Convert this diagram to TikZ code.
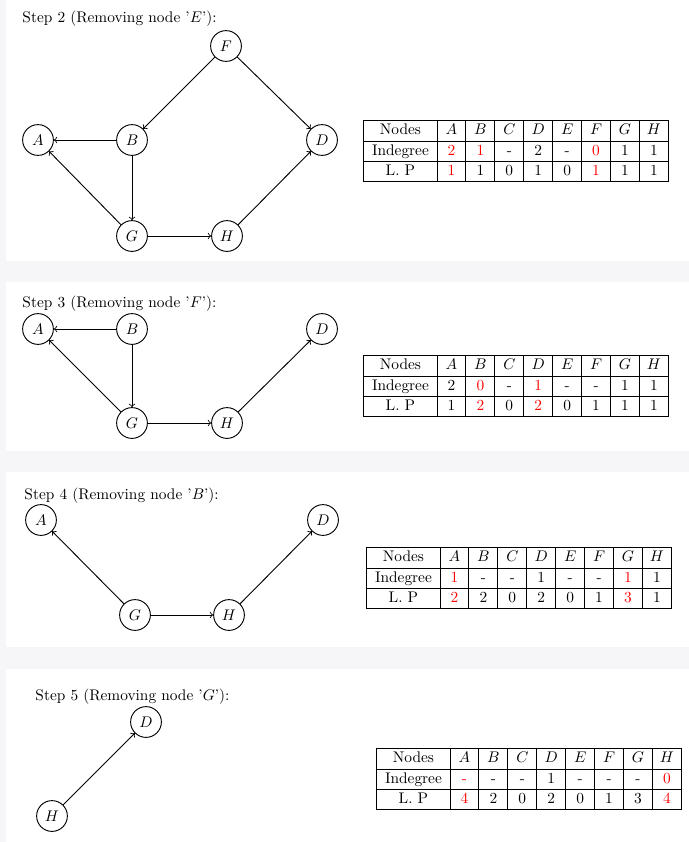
\documentclass[tikz,border=0pt]{standalone}
\usetikzlibrary{matrix}
\definecolor{bandgray}{RGB}{246,246,248}
\begin{document}
\begin{tikzpicture}[x=.65pt,y=-.65pt,semithick,
  vertex/.style={circle,draw,minimum size=20pt,inner sep=0pt},
  title/.style={anchor=base west,inner sep=0pt},
  changed/.style={text=red},
  lptable/.style={matrix of nodes,anchor=north west,inner sep=0pt,
    column sep=-.6pt,row sep=-.6pt,
    nodes={draw,inner sep=0pt,minimum width=18.8pt,minimum height=13.2pt,
      text height=7pt,text depth=2pt},
    column 1/.style={nodes={minimum width=47.5pt}}}]
\useasboundingbox (0,0) rectangle (689,842);
\fill[bandgray] (0,0) rectangle (689,842);
\foreach \ya/\yb in {0/261,282/451,472/647,669/842}
  \fill[white] (6,\ya) rectangle (689,\yb);

\node[title] (t2) at (22,23) {Step 2 (Removing node '$E$'):};
\node[vertex] (F2) at (226,46) {$F$};
\node[vertex] (A2) at (38,140) {$A$};
\node[vertex] (B2) at (132,140) {$B$};
\node[vertex] (D2) at (322,140) {$D$};
\node[vertex] (G2) at (132,236) {$G$};
\node[vertex] (H2) at (227,236) {$H$};
\draw[->] (F2)--(B2);
\draw[->] (F2)--(D2);
\draw[->] (B2)--(A2);
\draw[->] (B2)--(G2);
\draw[->] (G2)--(A2);
\draw[->] (G2)--(H2);
\draw[->] (H2)--(D2);
\matrix (lp2) [lptable] at (363,120) {
Nodes & $A$ & $B$ & $C$ & $D$ & $E$ & $F$ & $G$ & $H$ \\
Indegree & |[changed]| 2 & |[changed]| 1 & - & 2 & - & |[changed]| 0 & 1 & 1 \\
L. P & |[changed]| 1 & 1 & 0 & 1 & 0 & |[changed]| 1 & 1 & 1 \\
};

\node[title] (t3) at (22,307) {Step 3 (Removing node '$F$'):};
\node[vertex] (A3) at (38,329) {$A$};
\node[vertex] (B3) at (132,329) {$B$};
\node[vertex] (D3) at (322,329) {$D$};
\node[vertex] (G3) at (132,423) {$G$};
\node[vertex] (H3) at (227,423) {$H$};
\draw[->] (B3)--(A3);
\draw[->] (B3)--(G3);
\draw[->] (G3)--(A3);
\draw[->] (G3)--(H3);
\draw[->] (H3)--(D3);
\matrix (lp3) [lptable] at (363,355) {
Nodes & $A$ & $B$ & $C$ & $D$ & $E$ & $F$ & $G$ & $H$ \\
Indegree & 2 & |[changed]| 0 & - & |[changed]| 1 & - & - & 1 & 1 \\
L. P & 1 & |[changed]| 2 & 0 & |[changed]| 2 & 0 & 1 & 1 & 1 \\
};

\node[title] (t4) at (24,499) {Step 4 (Removing node '$B$'):};
\node[vertex] (A4) at (41,520) {$A$};
\node[vertex] (D4) at (323,520) {$D$};
\node[vertex] (G4) at (135,615) {$G$};
\node[vertex] (H4) at (229,615) {$H$};
\draw[->] (G4)--(A4);
\draw[->] (G4)--(H4);
\draw[->] (H4)--(D4);
\matrix (lp4) [lptable] at (366,547) {
Nodes & $A$ & $B$ & $C$ & $D$ & $E$ & $F$ & $G$ & $H$ \\
Indegree & |[changed]| 1 & - & - & 1 & - & - & |[changed]| 1 & 1 \\
L. P & |[changed]| 2 & 2 & 0 & 2 & 0 & 1 & |[changed]| 3 & 1 \\
};

\node[title] (t5) at (35,700) {Step 5 (Removing node '$G$'):};
\node[vertex] (D5) at (146,722) {$D$};
\node[vertex] (H5) at (52,816) {$H$};
\draw[->] (H5)--(D5);
\matrix (lp5) [lptable] at (376,748) {
Nodes & $A$ & $B$ & $C$ & $D$ & $E$ & $F$ & $G$ & $H$ \\
Indegree & |[changed]| - & - & - & 1 & - & - & - & |[changed]| 0 \\
L. P & |[changed]| 4 & 2 & 0 & 2 & 0 & 1 & 3 & |[changed]| 4 \\
};
\end{tikzpicture}
\end{document}
